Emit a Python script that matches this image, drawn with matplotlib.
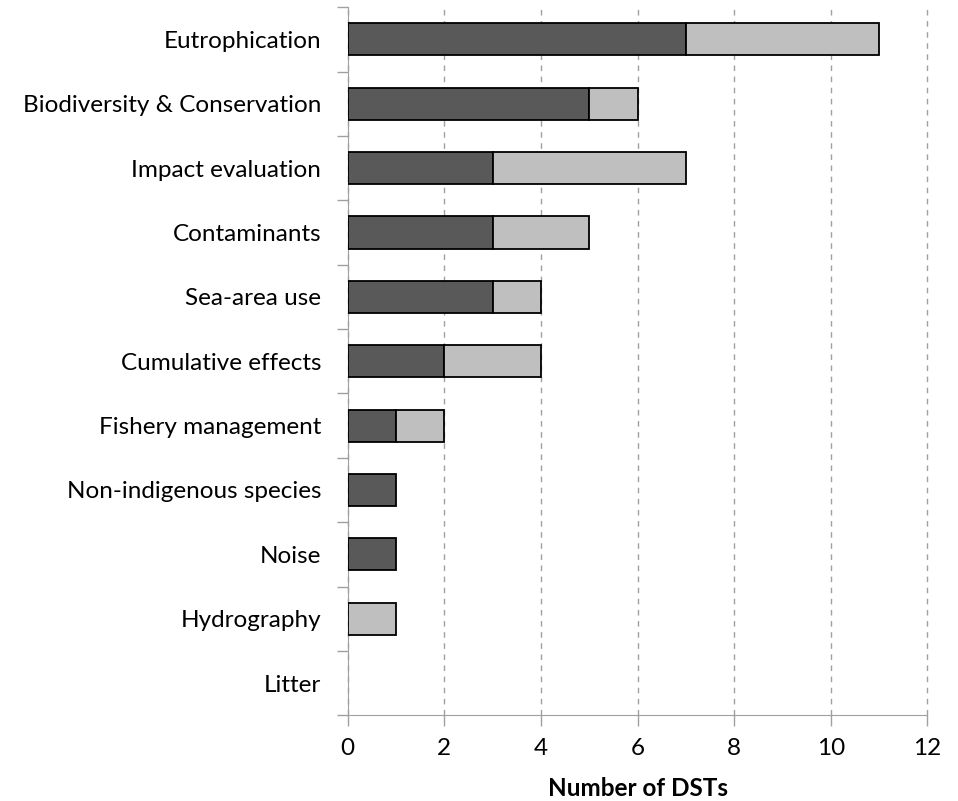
import numpy as np
import matplotlib.pyplot as plt

categories = ["Eutrophication", "Biodiversity & Conservation", "Impact evaluation",
              "Contaminants", "Sea-area use", "Cumulative effects", "Fishery management",
              "Non-indigenous species", "Noise", "Hydrography", "Litter"]
dark_vals = [7, 5, 3, 3, 3, 2, 1, 1, 1, 0, 0]
light_vals = [4, 1, 4, 2, 1, 2, 1, 0, 0, 1, 0]

plt.rcParams['font.family'] = ['Lato', 'DejaVu Sans']

fig = plt.figure(figsize=(9.58, 8.01), dpi=100)
ax = fig.add_axes([0.363, 0.107, 0.605, 0.884])

y = np.arange(len(categories))
# dark segment, then light segment stacked on it
for i in range(len(categories)):
    if dark_vals[i] > 0:
        ax.barh(y[i], dark_vals[i], height=0.5, color="#595959", edgecolor="black", linewidth=1.3, zorder=3)
    if light_vals[i] > 0:
        ax.barh(y[i], light_vals[i], left=dark_vals[i], height=0.5, color="#bfbfbf",
                edgecolor="black", linewidth=1.3, zorder=3)

ax.set_ylim(len(categories) - 0.5, -0.5)
ax.set_xlim(0, 12)
ax.set_xticks(range(0, 13, 2))
ax.set_yticks(y)
ax.set_yticklabels(categories, fontsize=17.5)
ax.set_yticks(np.arange(-0.5, len(categories), 1), minor=True)
ax.tick_params(axis='y', which='major', length=0, pad=19)
ax.tick_params(axis='y', which='minor', length=8, color="#a0a0a0", width=1)
ax.tick_params(axis='x', length=8, color="#a0a0a0", width=1, labelsize=17.5, pad=8)

ax.grid(axis='x', linestyle=(0, (4, 4)), color="#a0a0a0", linewidth=1, zorder=0)
for gl in ax.get_xgridlines():
    gl.set_clip_on(False)
for s in ["top", "right"]:
    ax.spines[s].set_visible(False)
ax.spines["left"].set_color("#a0a0a0")
ax.spines["bottom"].set_color("#a0a0a0")

ax.set_xlabel("Number of DSTs", fontsize=17.5, fontweight="bold", labelpad=13)

fig.savefig("out.png", dpi=100)
